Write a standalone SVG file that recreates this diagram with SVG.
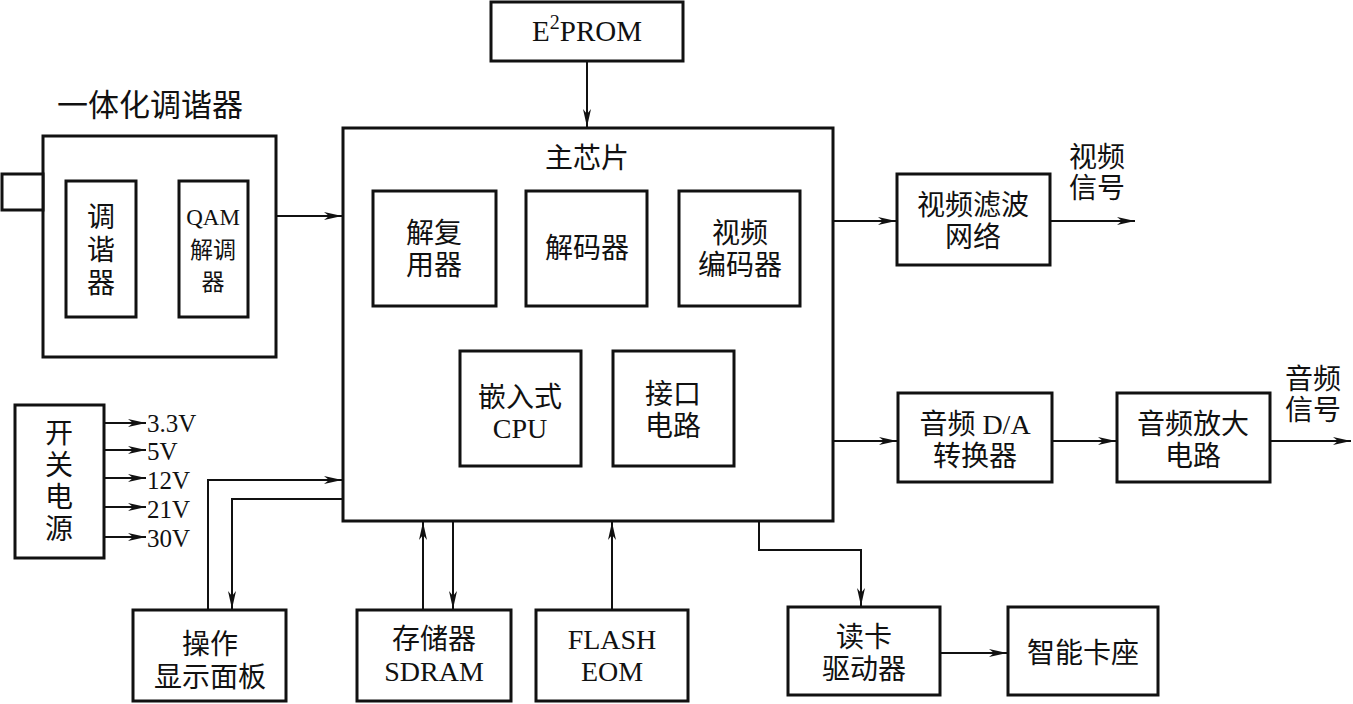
<svg xmlns="http://www.w3.org/2000/svg" width="1353" height="704" viewBox="0 0 1353 704">
<defs>
<style>
.box{fill:#fff;stroke:#111;stroke-width:3}
.ln{fill:none;stroke:#111;stroke-width:2}
.ar{marker-end:url(#a)}
text{font-family:"Liberation Serif","Noto Sans CJK SC",serif;fill:#111;text-anchor:middle}
.c{font-size:28px}
.s{font-size:23px}
.v{font-size:25px;text-anchor:start}
</style>
<marker id="a" viewBox="0 0 18 8" refX="18" refY="4" markerWidth="18" markerHeight="8" orient="auto" markerUnits="userSpaceOnUse">
<path d="M0,0 L18,4 L0,8 L5,4 z" fill="#111"/>
</marker>
</defs>
<rect width="1353" height="704" fill="#fff"/>

<g id="connectors">
<path class="ln ar" d="M587,61 V127"/>
<path class="ln ar" d="M276,216 H342"/>
<path class="ln ar" d="M136,231 H178"/>
<path class="ln ar" d="M136,271 H178"/>
<path class="ln ar" d="M104,423 H146"/>
<path class="ln ar" d="M104,450 H146"/>
<path class="ln ar" d="M104,478 H146"/>
<path class="ln ar" d="M104,507 H146"/>
<path class="ln ar" d="M104,537 H146"/>
<path class="ln ar" d="M208,610 V480 H342"/>
<path class="ln ar" d="M343,499 H232 V609"/>
<path class="ln ar" d="M423,610 V522"/>
<path class="ln ar" d="M453,521 V609"/>
<path class="ln ar" d="M612,610 V522"/>
<path class="ln ar" d="M759,521 V550 H861 V606"/>
<path class="ln ar" d="M833,221 H896"/>
<path class="ln ar" d="M1050,221 H1135"/>
<path class="ln ar" d="M833,441 H897"/>
<path class="ln ar" d="M1052,441 H1116"/>
<path class="ln ar" d="M1270,441 H1351"/>
<path class="ln ar" d="M940,653 H1007"/>
</g>

<g id="e2prom">
<rect class="box" x="491" y="2" width="192" height="59"/>
<text class="c" x="587" y="41" style="font-size:29px">E<tspan font-size="20" dy="-12">2</tspan><tspan dy="12">PROM</tspan></text>
</g>

<g id="tuner">
<text class="c" x="150" y="116" style="font-size:31px">一体化调谐器</text>
<rect class="box" x="43" y="136" width="233" height="221"/>
<rect class="box" x="2" y="174" width="41" height="36"/>
</g>
<g id="tuner-inner">
<rect class="box" x="66" y="181" width="70" height="136"/>
<text class="c" x="101" y="227">调</text>
<text class="c" x="101" y="260">谐</text>
<text class="c" x="101" y="293">器</text>
</g>
<g id="qam">
<rect class="box" x="179" y="181" width="69" height="136"/>
<text class="s" x="213" y="225">QAM</text>
<text class="s" x="213" y="258">解调</text>
<text class="s" x="213" y="290">器</text>
</g>

<g id="main-chip">
<rect class="box" x="343" y="128" width="490" height="393"/>
<text class="c" x="587" y="168">主芯片</text>
</g>
<g id="demux">
<rect class="box" x="373" y="191" width="123" height="115"/>
<text class="c" x="434" y="243">解复</text>
<text class="c" x="434" y="275">用器</text>
</g>
<g id="decoder">
<rect class="box" x="526" y="191" width="121" height="115"/>
<text class="c" x="587" y="258">解码器</text>
</g>
<g id="video-encoder">
<rect class="box" x="679" y="191" width="121" height="115"/>
<text class="c" x="740" y="243">视频</text>
<text class="c" x="740" y="275">编码器</text>
</g>
<g id="cpu">
<rect class="box" x="460" y="351" width="121" height="115"/>
<text class="c" x="520" y="407">嵌入式</text>
<text class="c" x="520" y="438">CPU</text>
</g>
<g id="interface">
<rect class="box" x="613" y="351" width="121" height="115"/>
<text class="c" x="673" y="404">接口</text>
<text class="c" x="673" y="436">电路</text>
</g>

<g id="power">
<rect class="box" x="15" y="405" width="89" height="153"/>
<text class="c" x="59" y="443">开</text>
<text class="c" x="59" y="475">关</text>
<text class="c" x="59" y="507">电</text>
<text class="c" x="59" y="539">源</text>
<text class="v" x="147" y="432">3.3V</text>
<text class="v" x="147" y="460">5V</text>
<text class="v" x="147" y="489">12V</text>
<text class="v" x="147" y="518">21V</text>
<text class="v" x="147" y="547">30V</text>
</g>

<g id="panel">
<rect class="box" x="133" y="610" width="153" height="91"/>
<text class="c" x="210" y="654">操作</text>
<text class="c" x="210" y="687">显示面板</text>
</g>
<g id="sdram">
<rect class="box" x="357" y="610" width="154" height="91"/>
<text class="c" x="434" y="649">存储器</text>
<text class="c" x="434" y="681">SDRAM</text>
</g>
<g id="flash">
<rect class="box" x="536" y="610" width="152" height="91"/>
<text class="c" x="612" y="649">FLASH</text>
<text class="c" x="612" y="681">EOM</text>
</g>
<g id="card-reader">
<rect class="box" x="788" y="607" width="152" height="88"/>
<text class="c" x="864" y="647">读卡</text>
<text class="c" x="864" y="679">驱动器</text>
</g>
<g id="smart-card">
<rect class="box" x="1008" y="607" width="150" height="88"/>
<text class="c" x="1083" y="663">智能卡座</text>
</g>

<g id="video-filter">
<rect class="box" x="897" y="174" width="153" height="91"/>
<text class="c" x="973" y="215">视频滤波</text>
<text class="c" x="973" y="247">网络</text>
</g>
<text class="c" x="1097" y="167">视频</text>
<text class="c" x="1097" y="198">信号</text>

<g id="audio-da">
<rect class="box" x="898" y="393" width="154" height="89"/>
<text class="c" x="975" y="434">音频 D/A</text>
<text class="c" x="975" y="466">转换器</text>
</g>
<g id="audio-amp">
<rect class="box" x="1117" y="393" width="153" height="89"/>
<text class="c" x="1193" y="434">音频放大</text>
<text class="c" x="1193" y="466">电路</text>
</g>
<text class="c" x="1313" y="389">音频</text>
<text class="c" x="1313" y="420">信号</text>
</svg>
